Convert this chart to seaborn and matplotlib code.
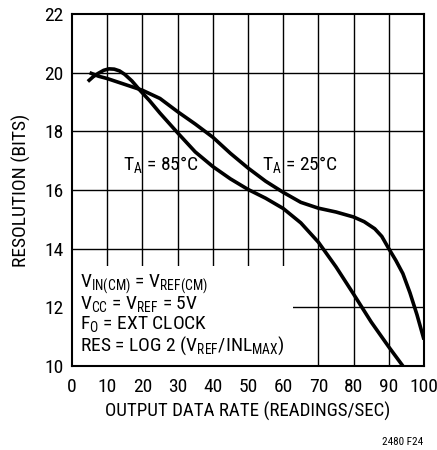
import matplotlib
matplotlib.use("Agg")
import matplotlib.pyplot as plt
from matplotlib import font_manager
from matplotlib.patches import Rectangle
import seaborn as sns
import pandas as pd

# ---- data ----
x_85 = [4.5, 6, 7.5, 9, 10.5, 12, 13.5, 15, 17, 19.3, 22, 25, 30, 35, 40, 45, 50, 55, 60, 65,
        70, 75, 80, 85, 90, 94]
y_85 = [19.7, 19.86, 19.98, 20.08, 20.13, 20.12, 20.06, 19.94, 19.72, 19.4, 19.05, 18.62, 17.95,
        17.3, 16.8, 16.38, 16.02, 15.72, 15.37, 14.88, 14.22, 13.38, 12.45, 11.5, 10.65, 10.0]
x_25 = [5, 7.5, 10, 15, 20, 25, 30, 35, 40, 45, 50, 55, 60, 65, 70, 75, 80, 83, 86, 88, 90, 92,
        94, 96, 98, 100]
y_25 = [20.0, 19.88, 19.8, 19.6, 19.4, 19.12, 18.67, 18.25, 17.8, 17.25, 16.75, 16.3, 15.92, 15.58,
        15.38, 15.25, 15.08, 14.92, 14.68, 14.42, 14.0, 13.6, 13.15, 12.5, 11.75, 10.9]
x_ticks = [0, 10, 20, 30, 40, 50, 60, 70, 80, 90, 100]
y_ticks = [10, 12, 14, 16, 18, 20, 22]
label_85 = r"T$_\mathregular{A}$ = 85°C"
label_25 = r"T$_\mathregular{A}$ = 25°C"
cond_lines = [
    r"V$_\mathregular{IN(CM)}$ = V$_\mathregular{REF(CM)}$",
    r"V$_\mathregular{CC}$ = V$_\mathregular{REF}$ = 5V",
    r"F$_\mathregular{O}$ = EXT CLOCK",
    r"RES = LOG 2 (V$_\mathregular{REF}$/INL$_\mathregular{MAX}$)",
]

sns.set_theme(style="white")
fam, stretch = "DejaVu Sans", "normal"
for f in font_manager.fontManager.ttflist:
    if f.name == "Roboto Condensed" and f.style == "normal":
        fam, stretch = f.name, f.stretch
        break
plt.rcParams["font.family"] = [fam, "DejaVu Sans"]
plt.rcParams["font.stretch"] = stretch
plt.rcParams["mathtext.fontset"] = "custom"
plt.rcParams["mathtext.rm"] = fam
plt.rcParams["text.color"] = "black"

df = pd.concat([
    pd.DataFrame({"rate": x_85, "res": y_85, "temp": "85"}),
    pd.DataFrame({"rate": x_25, "res": y_25, "temp": "25"}),
])

fig = plt.figure(figsize=(4.37, 4.5), dpi=100)
ax = fig.add_axes([72 / 437, 1 - 366 / 450, 352 / 437, 352 / 450])

for xv in x_ticks[1:-1]:
    ax.axvline(xv, color="black", lw=1.0, zorder=1)
for yv in y_ticks[1:-1]:
    ax.axhline(yv, color="black", lw=1.0, zorder=1)
ax.add_patch(Rectangle((0.4, 10.03), 62.3, 3.37, facecolor="white", edgecolor="none", zorder=1.5))

sns.lineplot(data=df, x="rate", y="res", units="temp", estimator=None, sort=False,
             color="black", lw=2.6, ax=ax, zorder=3)
for ln in ax.lines:
    ln.set_solid_joinstyle("round")
    ln.set_solid_capstyle("butt")

FS = 14
ax.set_xlim(0, 100)
ax.set_ylim(10, 22)
ax.set_xticks(x_ticks)
ax.set_yticks(y_ticks)
ax.tick_params(direction="in", length=5, width=1, labelsize=FS, colors="black", pad=6)
ax.tick_params(axis="x", pad=9)
for s in ax.spines.values():
    s.set_color("black")
    s.set_linewidth(1.5)
ax.set_xlabel("OUTPUT DATA RATE (READINGS/SEC)", fontsize=13.6, color="black", labelpad=4)
ax.set_ylabel("RESOLUTION (BITS)", fontsize=FS, color="black", labelpad=10)

ax.text(14.6, 16.85, label_85, fontsize=FS, va="center", ha="left", zorder=4)
ax.text(53.9, 16.85, label_25, fontsize=FS, va="center", ha="left", zorder=4)
for i, t in enumerate(cond_lines):
    ax.text(2.3, 12.8 - i * 0.7, t, fontsize=FS, va="center", ha="left", zorder=4)

fig.text(423 / 437, 1 - 442 / 450, "2480 F24", fontsize=8, ha="right", va="center")

fig.savefig("out.png", dpi=100)
